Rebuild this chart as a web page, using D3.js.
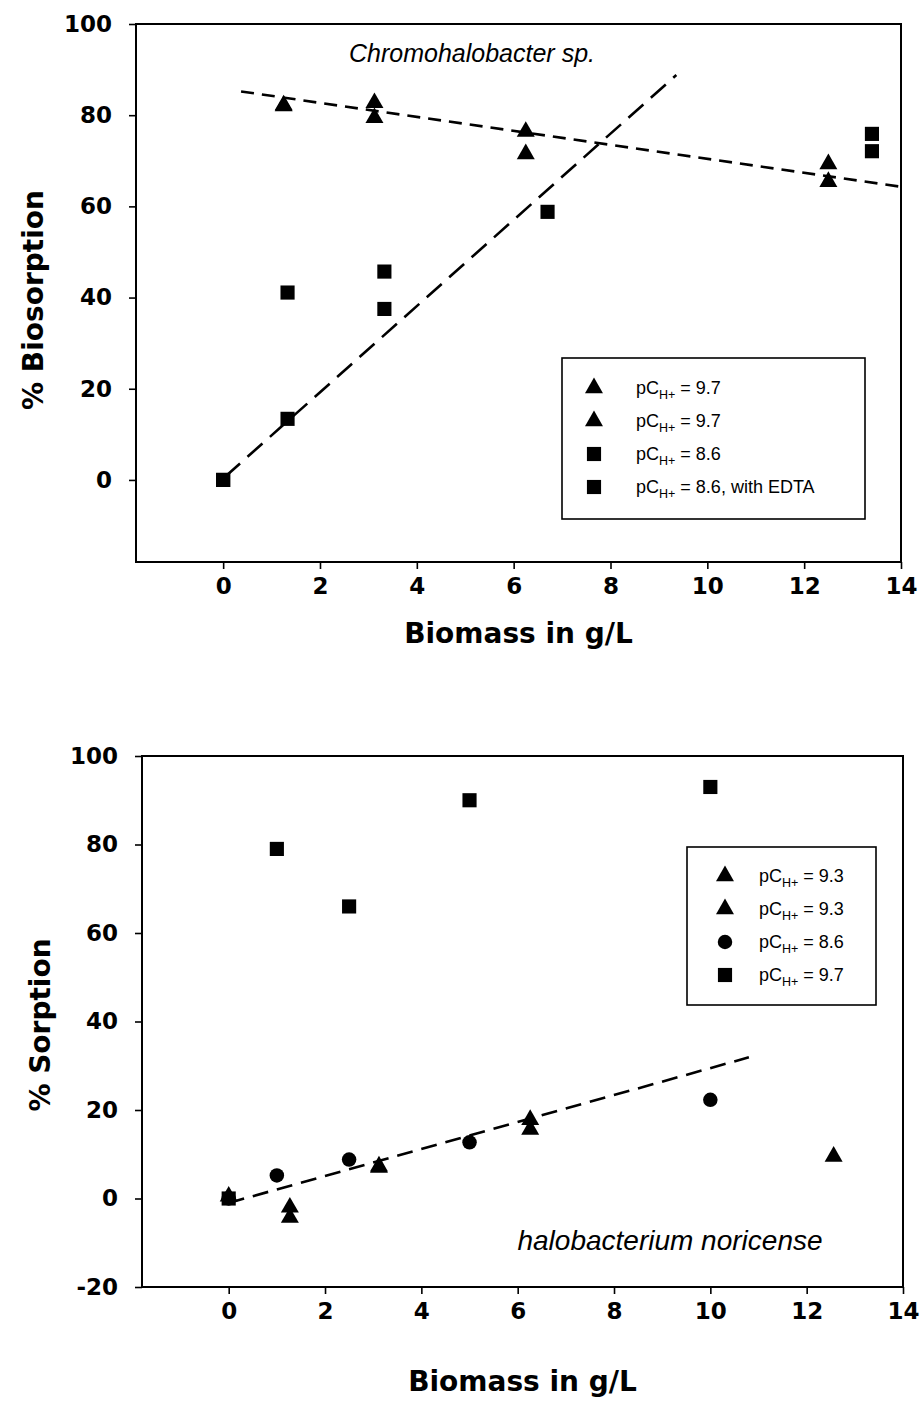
<!DOCTYPE html>
<html>
<head>
<meta charset="utf-8">
<script src="https://cdn.jsdelivr.net/npm/d3@7"></script>
<style>
  body { margin: 0; background: #fff; }
  svg { display: block; }
</style>
</head>
<body>
<script>
// ---- data ----
var xTicks = [0, 2, 4, 6, 8, 10, 12, 14];
var topYTicks = [0, 20, 40, 60, 80, 100];
var botYTicks = [-20, 0, 20, 40, 60, 80, 100];

// top panel: Chromohalobacter sp.
var topTriAX = [1.25, 3.125, 6.25, 12.5];
var topTriAY = [82.2, 82.7, 76.4, 69.3];
var topTriBX = [1.25, 3.125, 6.25, 12.5];
var topTriBY = [82.0, 79.4, 71.5, 65.4];
var topSqAX = [0, 1.33, 3.33, 6.7, 13.4];
var topSqAY = [0, 13.4, 37.5, 58.8, 72.1];
var topSqBX = [0, 1.33, 3.33, 13.4];
var topSqBY = [0, 41.1, 45.7, 75.9];
var topFitTriX = [0.37, 14.0];
var topFitTriY = [85.2, 64.3];
var topFitSqX = [0.04, 9.36];
var topFitSqY = [0.7, 88.8];
var topLegend = ["9.7", "9.7", "8.6", "8.6, with EDTA"];

// bottom panel: halobacterium noricense
var botTriAX = [0, 1.27, 3.12, 6.26, 12.56];
var botTriAY = [0.5, -2.0, 7.3, 17.8, 9.5];
var botTriBX = [1.27, 3.12, 6.26];
var botTriBY = [-4.3, 7.0, 15.6];
var botCirX = [0, 1, 2.5, 5, 10];
var botCirY = [0, 5.2, 8.8, 12.7, 22.3];
var botSqX = [0, 1, 2.5, 5, 10];
var botSqY = [0, 79, 66, 90, 93];
var botFitX = [0, 10.8];
var botFitY = [-1.0, 31.9];
var botLegend = ["9.3", "9.3", "8.6", "9.7"];

var svg = d3.select("body").append("svg")
  .attr("width", 923)
  .attr("height", 1401);

var boldFont = "'DejaVu Sans', sans-serif";
var plainFont = "'Liberation Sans', Arial, sans-serif";

var symTri = d3.symbol().type(d3.symbolTriangle).size(140)();
var symSq = d3.symbol().type(d3.symbolSquare).size(200)();
var symCir = d3.symbol().type(d3.symbolCircle).size(165)();

function zip(xs, ys) {
  return xs.map(function (x, i) { return [x, ys[i]]; });
}

function drawPanel(p) {
  var x = d3.scaleLinear().domain(p.xDomain).range([p.left, p.right]);
  var y = d3.scaleLinear().domain(p.yDomain).range([p.bottom, p.top]);
  var g = svg.append("g");

  // axes
  var ax = g.append("g")
    .attr("transform", "translate(0," + p.bottom + ")")
    .call(d3.axisBottom(x).tickValues(xTicks).tickSize(7).tickPadding(9).tickSizeOuter(0));
  var ay = g.append("g")
    .attr("transform", "translate(" + p.left + ",0)")
    .call(d3.axisLeft(y).tickValues(p.yTicks).tickSize(7).tickPadding(p.yPad).tickSizeOuter(0)
      .tickFormat(function (d) { return String(d); }));
  [ax, ay].forEach(function (a) {
    a.select(".domain").remove();
    a.selectAll("line").attr("stroke", "#000").attr("stroke-width", 1.6);
    a.selectAll("text")
      .attr("font-family", boldFont)
      .attr("font-weight", "bold")
      .attr("font-size", 23)
      .attr("fill", "#000");
  });

  // frame
  g.append("rect")
    .attr("x", p.left).attr("y", p.top)
    .attr("width", p.right - p.left).attr("height", p.bottom - p.top)
    .attr("fill", "none").attr("stroke", "#000").attr("stroke-width", 2);

  // fit lines
  var line = d3.line().x(function (d) { return x(d[0]); }).y(function (d) { return y(d[1]); });
  p.fits.forEach(function (f) {
    g.append("path")
      .attr("d", line(zip(f.x, f.y)))
      .attr("fill", "none")
      .attr("stroke", "#000")
      .attr("stroke-width", 2.6)
      .attr("stroke-dasharray", f.dash);
  });

  // markers
  p.series.forEach(function (s) {
    g.selectAll(null)
      .data(zip(s.x, s.y))
      .enter().append("path")
      .attr("d", s.sym)
      .attr("transform", function (d) { return "translate(" + x(d[0]) + "," + y(d[1]) + ")"; })
      .attr("fill", "#000");
  });

  // legend
  var lg = g.append("g");
  lg.append("rect")
    .attr("x", p.legend.x).attr("y", p.legend.y)
    .attr("width", p.legend.w).attr("height", p.legend.h)
    .attr("fill", "#fff").attr("stroke", "#000").attr("stroke-width", 1.6);
  p.legend.labels.forEach(function (lab, i) {
    var cy = p.legend.y + p.legend.rowTop + i * 33;
    lg.append("path")
      .attr("d", p.series[i].sym)
      .attr("transform", "translate(" + (p.legend.x + p.legend.symX) + "," + cy + ")")
      .attr("fill", "#000");
    var t = lg.append("text")
      .attr("x", p.legend.x + p.legend.textX)
      .attr("y", cy + 6)
      .attr("font-family", plainFont)
      .attr("font-size", 18)
      .attr("fill", "#000");
    t.append("tspan").text("pC");
    t.append("tspan").attr("font-size", 12.5).attr("dy", 5).text("H+");
    t.append("tspan").attr("dy", -5).text(" = " + lab);
  });

  // annotation
  g.append("text")
    .attr("x", p.note.x).attr("y", p.note.y)
    .attr("text-anchor", "middle")
    .attr("font-family", plainFont)
    .attr("font-style", "italic")
    .attr("font-size", p.note.size)
    .attr("fill", "#000")
    .text(p.note.text);

  // axis titles
  g.append("text")
    .attr("x", (p.left + p.right) / 2)
    .attr("y", p.xTitleY)
    .attr("text-anchor", "middle")
    .attr("font-family", boldFont)
    .attr("font-weight", "bold")
    .attr("font-size", 28)
    .text("Biomass in g/L");
  g.append("text")
    .attr("transform", "translate(" + p.yTitleX + "," + p.yTitleCY + ") rotate(-90)")
    .attr("text-anchor", "middle")
    .attr("font-family", boldFont)
    .attr("font-weight", "bold")
    .attr("font-size", 28)
    .text(p.yTitle);
}

drawPanel({
  left: 136, right: 901, top: 24, bottom: 562,
  xDomain: [-1.8, 14], yDomain: [-18, 100], yTicks: topYTicks, yPad: 17,
  fits: [
    { x: topFitTriX, y: topFitTriY, dash: "13,8" },
    { x: topFitSqX, y: topFitSqY, dash: "20,10" }
  ],
  series: [
    { x: topTriAX, y: topTriAY, sym: symTri },
    { x: topTriBX, y: topTriBY, sym: symTri },
    { x: topSqAX, y: topSqAY, sym: symSq },
    { x: topSqBX, y: topSqBY, sym: symSq }
  ],
  legend: { x: 562, y: 358, w: 303, h: 161, rowTop: 30, symX: 32, textX: 74, labels: topLegend },
  note: { x: 472, y: 62, size: 25, text: "Chromohalobacter sp." },
  xTitleY: 643,
  yTitle: "% Biosorption", yTitleX: 43, yTitleCY: 300
});

drawPanel({
  left: 142, right: 903, top: 756, bottom: 1287,
  xDomain: [-1.8, 14], yDomain: [-20, 100], yTicks: botYTicks, yPad: 17,
  fits: [
    { x: botFitX, y: botFitY, dash: "16,9" }
  ],
  series: [
    { x: botTriAX, y: botTriAY, sym: symTri },
    { x: botTriBX, y: botTriBY, sym: symTri },
    { x: botCirX, y: botCirY, sym: symCir },
    { x: botSqX, y: botSqY, sym: symSq }
  ],
  legend: { x: 687, y: 847, w: 189, h: 158, rowTop: 29, symX: 38, textX: 72, labels: botLegend },
  note: { x: 670, y: 1250, size: 28, text: "halobacterium noricense" },
  xTitleY: 1391,
  yTitle: "% Sorption", yTitleX: 50, yTitleCY: 1025
});
</script>
</body>
</html>
